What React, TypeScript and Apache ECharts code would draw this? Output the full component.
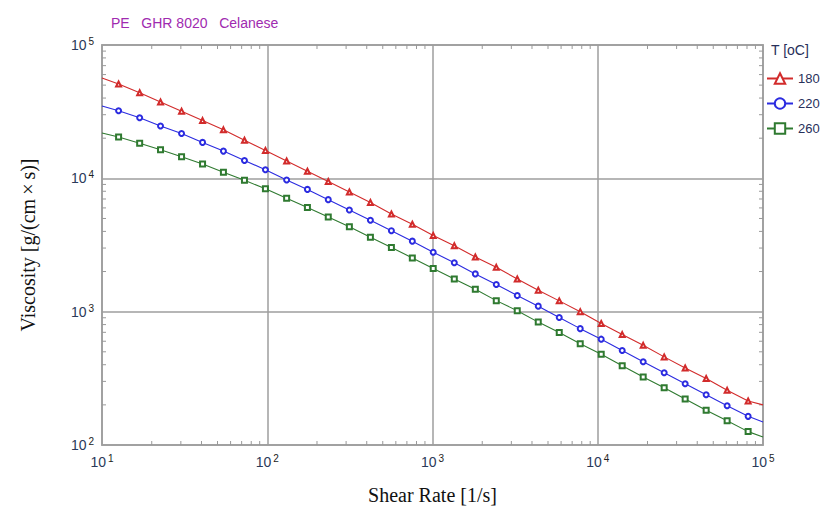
import React, { useEffect, useRef } from "react";
import * as echarts from "echarts";

const shearRate = [
  10, 12.6, 16.9, 22.6, 30.3, 40.6, 54.3, 72.8, 97.5, 131, 175, 234, 314, 421, 564, 755,
  1010, 1355, 1816, 2432, 3258, 4365, 5848, 7834, 10495, 14060, 18836, 25235, 33806,
  45290, 60674, 81283, 100000,
];

const visc180 = [
  56500, 51000, 43800, 37400, 31900, 27100, 23100, 19300, 16200, 13500, 11300, 9460, 7890,
  6580, 5400, 4530, 3730, 3120, 2570, 2150, 1760, 1450, 1205, 1000, 815, 673, 559, 458, 378,
  315, 257, 214, 200,
];

const visc220 = [
  34900, 32100, 28500, 24700, 21700, 18600, 16000, 13600, 11600, 9720, 8260, 6920, 5780,
  4850, 4050, 3380, 2790, 2330, 1920, 1600, 1320, 1100, 903, 746, 622, 511, 421, 348, 288,
  238, 197, 164, 149,
];

const visc260 = [
  21900, 20400, 18300, 16400, 14500, 12800, 11100, 9670, 8340, 7090, 6040, 5130, 4330,
  3610, 3030, 2530, 2110, 1760, 1470, 1210, 1017, 835, 697, 575, 480, 393, 323, 269, 221,
  182, 152, 126, 115,
];

const seriesNames = ["180", "220", "260"];
const seriesColors = ["#d22b2b", "#2b2be0", "#2f7a30"];
const seriesSymbols = ["emptyTriangle", "emptyCircle", "emptyRect"];

const xMin = 10;
const xMax = 100000;
const yMin = 100;
const yMax = 100000;

const minorMultipliers = [2, 3, 4, 5, 6, 7, 8, 9];
const xDecades = [10, 100, 1000, 10000];
const yDecades = [100, 1000, 10000];

const sans = "Liberation Sans, Arial, sans-serif";
const serif = "Liberation Serif, Times New Roman, serif";

export default function App() {
  const ref = useRef<HTMLDivElement>(null);

  useEffect(() => {
    if (!ref.current) return;
    const chart = echarts.init(ref.current, null, { renderer: "svg" });

    const xMinor: number[][] = [];
    xDecades.forEach((d) => minorMultipliers.forEach((m) => xMinor.push([d * m, yMin])));
    const yMinor: number[][] = [];
    yDecades.forEach((d) => minorMultipliers.forEach((m) => yMinor.push([xMin, d * m])));

    const tickStyle = { stroke: "#999", lineWidth: 1 };
    const tickLen = 4;

    const dataSets = [visc180, visc220, visc260];

    const lineSeries = dataSets.map((vals, i) => ({
      name: seriesNames[i],
      type: "line",
      data: vals.map((v, j) => {
        const item: any = { value: [shearRate[j], v] };
        if (j === 0 || j === vals.length - 1) item.symbol = "none";
        return item;
      }),
      symbol: seriesSymbols[i],
      symbolSize: 5,
      showSymbol: true,
      lineStyle: { color: seriesColors[i], width: 1.1 },
      itemStyle: { color: seriesColors[i], borderWidth: 1 },
      emphasis: { disabled: true },
      z: 5,
    }));

    const labelRich = {
      b: { fontSize: 14, color: "#2b3a5a", fontFamily: sans },
      s: {
        fontSize: 10,
        color: "#222",
        fontFamily: sans,
        verticalAlign: "bottom",
        padding: [0, 0, 7, 2],
      },
    };

    const option: any = {
      animation: false,
      backgroundColor: "#ffffff",
      title: {
        text: "PE   GHR 8020   Celanese",
        left: 106,
        top: 11,
        textStyle: {
          color: "#a02ab0",
          fontSize: 14,
          fontWeight: "normal",
          fontFamily: sans,
        },
      },
      legend: {
        orient: "vertical",
        left: 761,
        top: 67,
        itemWidth: 26,
        itemHeight: 13,
        itemGap: 12,
        data: seriesNames,
        textStyle: {
          color: "#27305a",
          fontSize: 13,
          fontFamily: sans,
        },
      },
      graphic: [
        {
          type: "text",
          left: 771,
          top: 43,
          style: {
            text: "T [oC]",
            fill: "#27305a",
            fontSize: 14,
            fontFamily: sans,
          },
        },
      ],
      grid: {
        left: 102,
        right: 61,
        top: 45,
        bottom: 58,
        show: true,
        borderColor: "#aaaaaa",
        borderWidth: 2,
        backgroundColor: "transparent",
      },
      xAxis: {
        type: "log",
        logBase: 10,
        min: xMin,
        max: xMax,
        name: "Shear Rate [1/s]",
        nameLocation: "middle",
        nameGap: 40,
        nameTextStyle: { fontFamily: serif, fontSize: 20, color: "#111" },
        axisLine: { show: false },
        axisTick: { show: false },
        splitLine: { show: true, lineStyle: { color: "#9e9e9e", width: 1.5 } },
        axisLabel: {
          margin: 8,
          formatter: (v: number) => `{b|10}{s|${Math.round(Math.log10(v))}}`,
          rich: labelRich,
        },
      },
      yAxis: {
        type: "log",
        logBase: 10,
        min: yMin,
        max: yMax,
        name: "Viscosity [g/(cm\u2009×\u2009s)]",
        nameLocation: "middle",
        nameGap: 64,
        nameTextStyle: { fontFamily: serif, fontSize: 20, color: "#111" },
        axisLine: { show: false },
        axisTick: { show: false },
        splitLine: { show: true, lineStyle: { color: "#9e9e9e", width: 1.5 } },
        axisLabel: {
          margin: 8,
          formatter: (v: number) => `{b|10}{s|${Math.round(Math.log10(v))}}`,
          rich: labelRich,
        },
      },
      series: [
        ...lineSeries,
        {
          type: "custom",
          silent: true,
          clip: false,
          z: 3,
          data: xMinor,
          renderItem: (params: any, api: any) => {
            const x = api.value(0);
            const pb = api.coord([x, yMin]);
            const pt = api.coord([x, yMax]);
            return {
              type: "group",
              children: [
                { type: "line", shape: { x1: pb[0], y1: pb[1], x2: pb[0], y2: pb[1] - tickLen }, style: tickStyle },
                { type: "line", shape: { x1: pt[0], y1: pt[1], x2: pt[0], y2: pt[1] + tickLen }, style: tickStyle },
              ],
            };
          },
        },
        {
          type: "custom",
          silent: true,
          clip: false,
          z: 3,
          data: yMinor,
          renderItem: (params: any, api: any) => {
            const y = api.value(1);
            const pl = api.coord([xMin, y]);
            const pr = api.coord([xMax, y]);
            return {
              type: "group",
              children: [
                { type: "line", shape: { x1: pl[0], y1: pl[1], x2: pl[0] + tickLen, y2: pl[1] }, style: tickStyle },
                { type: "line", shape: { x1: pr[0], y1: pr[1], x2: pr[0] - tickLen, y2: pr[1] }, style: tickStyle },
              ],
            };
          },
        },
      ],
    };

    chart.setOption(option);
    return () => chart.dispose();
  }, []);

  return <div ref={ref} style={{ width: 824, height: 510, position: "absolute", left: 0, top: 0 }} />;
}
